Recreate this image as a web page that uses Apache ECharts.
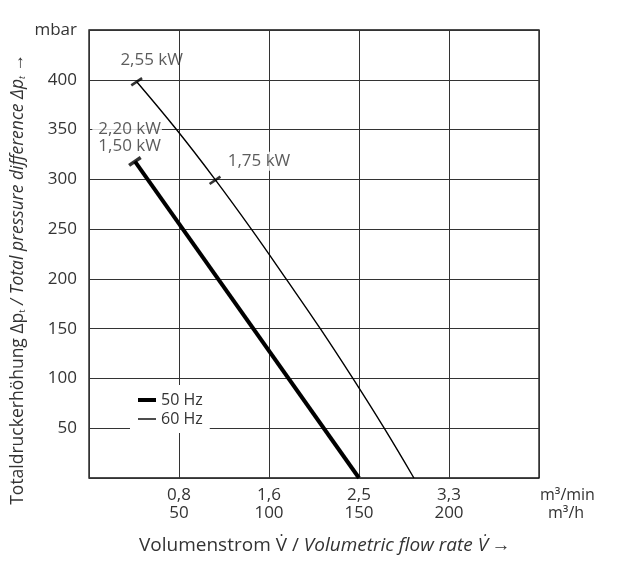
<!DOCTYPE html>
<html><head><meta charset="utf-8">
<script src="https://cdn.jsdelivr.net/npm/echarts@6/dist/echarts.min.js"></script>
<style>html,body{margin:0;padding:0;background:#fff}#c{width:618px;height:562px}</style>
</head><body><div id="c"></div>
<script>
// x in m³/h, y in mbar
const xTicksH = [50, 100, 150, 200];
const xTicksMin = ['0,8', '1,6', '2,5', '3,3'];
const yTicks = [50, 100, 150, 200, 250, 300, 350, 400];
const hz50 = [[25.5, 318], [150, 0]];
const hz60 = [[26.5, 398], [48.6, 350], [70, 300], [90.2, 250], [109.5, 200], [128.5, 150], [146.6, 100], [164, 50], [180.5, 0]];
const caps50 = [[25.5, 318]];
const caps60 = [[26.5, 398], [70, 299]];
const capLabels60 = ['2,55 kW', '1,75 kW'];
const capLabels50 = ['2,20 kW\n1,50 kW'];

const FONT = 'Open Sans';
const TXT = '#333';
const FS = 17;
const chart = echarts.init(document.getElementById('c'), null, {renderer: 'canvas'});
const minMap = {}; xTicksH.forEach((v, i) => minMap[v] = xTicksMin[i]);

chart.setOption({
  animation: false,
  grid: {left: 89, top: 30, right: 79, bottom: 84, show: true, borderColor: '#111', borderWidth: 1.3},
  xAxis: {
    type: 'value', min: 0, max: 250, interval: 50,
    axisLine: {show: false}, axisTick: {show: false},
    splitLine: {show: true, lineStyle: {color: '#333', width: 1}},
    axisLabel: {
      margin: 8, color: TXT, fontFamily: FONT, fontSize: FS, lineHeight: 18,
      formatter: v => minMap[v] ? minMap[v] + '\n' + v : ''
    },
    name: '{a|m³/min}\n{b|m³/h}', nameLocation: 'end', nameGap: 1,
    nameTextStyle: {
      align: 'left', verticalAlign: 'top', padding: [8, 0, 0, 0],
      rich: {
        a: {color: TXT, fontFamily: FONT, fontSize: 16, lineHeight: 18},
        b: {color: TXT, fontFamily: FONT, fontSize: 16, lineHeight: 18, padding: [0, 0, 0, 8]}
      }
    }
  },
  yAxis: {
    type: 'value', min: 0, max: 450, interval: 50,
    axisLine: {show: false}, axisTick: {show: false},
    splitLine: {show: true, lineStyle: {color: '#333', width: 1}},
    axisLabel: {
      margin: 12, color: TXT, fontFamily: FONT, fontSize: FS,
      formatter: v => v === 0 ? '' : (v === 450 ? 'mbar' : String(v))
    }
  },
  legend: [
    {data: [{name: '50 Hz', icon: 'rect'}], left: 130, top: 385, orient: 'vertical',
     itemWidth: 18, itemHeight: 4, itemGap: 0, padding: [6, 7, 1, 8], backgroundColor: '#fff',
     textStyle: {color: TXT, fontFamily: FONT, fontSize: 16, lineHeight: 18}},
    {data: [{name: '60 Hz', icon: 'rect'}], left: 130, top: 410, orient: 'vertical',
     itemWidth: 18, itemHeight: 1.4, itemGap: 0, padding: [0, 7, 5, 8], backgroundColor: '#fff',
     textStyle: {color: TXT, fontFamily: FONT, fontSize: 16, lineHeight: 18}}
  ],
  graphic: [
    {type: 'text', left: 139, top: 536,
     style: {text: '{n|Volumenstrom V̇ / }{i|Volumetric flow rate V̇} {n|→}',
       rich: {
         n: {fontFamily: FONT, fontSize: 19, fill: TXT},
         i: {fontFamily: FONT, fontSize: 19, fontStyle: 'italic', fill: TXT}
       }}},
    {type: 'text', left: 9, top: 54, rotation: Math.PI / 2,
     style: {text: '{n|Totaldruckerhöhung Δp}{s|t}{i| / Total pressure difference Δp}{si|t}{n| →}',
       rich: {
         n: {fontFamily: FONT, fontSize: 17.5, fill: TXT, lineHeight: 20},
         s: {fontFamily: FONT, fontSize: 9, fill: TXT, lineHeight: 20, padding: [8, 0, 0, 0]},
         i: {fontFamily: FONT, fontSize: 17.5, fontStyle: 'italic', fill: TXT, lineHeight: 20},
         si: {fontFamily: FONT, fontSize: 9, fontStyle: 'italic', fill: TXT, lineHeight: 20, padding: [8, 0, 0, 0]}
       }}}
  ],
  series: [
    {name: '50 Hz', type: 'line', data: hz50, showSymbol: false, z: 3,
     lineStyle: {color: '#000', width: 4}, itemStyle: {color: '#000'}},
    {name: '60 Hz', type: 'line', data: hz60, showSymbol: false, smooth: 0.4, z: 3,
     lineStyle: {color: '#000', width: 1.4}, itemStyle: {color: '#000'}},
    {type: 'scatter', data: caps50, symbol: 'rect', symbolSize: [14, 3.5], symbolRotate: 34, z: 4,
     itemStyle: {color: '#000'},
     label: {show: true, position: 'inside', offset: [27, -24], formatter: p => capLabels50[p.dataIndex],
       color: TXT, fontFamily: FONT, fontSize: FS, lineHeight: 17, align: 'right',
       textBorderWidth: 0, textBorderColor: 'transparent',
       backgroundColor: '#fff', padding: [0, 1, 0, 6]}},
    {type: 'scatter', symbol: 'rect', symbolSize: [13, 2.6], symbolRotate: 34, z: 4,
     itemStyle: {color: '#000'},
     label: {show: true, position: 'inside', color: TXT, fontFamily: FONT, fontSize: FS,
       textBorderWidth: 0, textBorderColor: 'transparent',
       formatter: p => capLabels60[p.dataIndex]},
     data: [
       {value: caps60[0], label: {offset: [15, -22]}},
       {value: caps60[1], label: {offset: [44, -19], backgroundColor: '#fff', padding: [1, 3]}}
     ]}
  ]
});
</script></body></html>
